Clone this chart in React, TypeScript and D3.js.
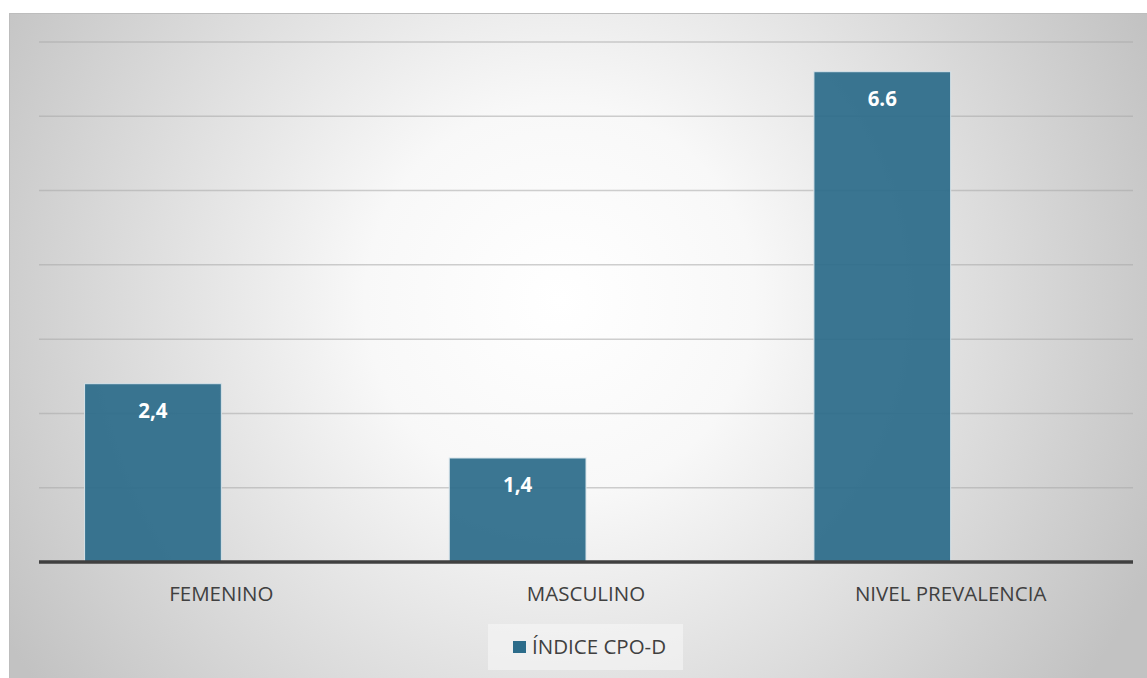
import React from "react";
import * as d3 from "d3";

const categories = ["FEMENINO", "MASCULINO", "NIVEL PREVALENCIA"];
const values = [2.4, 1.4, 6.6];
const valueLabels = ["2,4", "1,4", "6.6"];
const seriesName = "ÍNDICE CPO-D";
const slots = [seriesName, "_empty"];
const yTicks = [0, 1, 2, 3, 4, 5, 6, 7];

const W = 1147;
const H = 678;
const plot = { left: 39, right: 1133, top: 42, bottom: 562 };
const barColor = "#2c6c8a";
const font = "'Open Sans', 'Noto Sans', sans-serif";

export default function App() {
  const x = d3
    .scaleBand<string>()
    .domain(categories)
    .range([plot.left, plot.right])
    .padding(0);
  const xs = d3
    .scaleBand<string>()
    .domain(slots)
    .range([0, x.bandwidth()])
    .paddingInner(0)
    .paddingOuter(1 / 3);
  const y = d3.scaleLinear().domain([0, 7]).range([plot.bottom, plot.top]);

  return (
    <svg
      width={W}
      height={H}
      style={{ position: "absolute", left: 0, top: 0, background: "#fff" }}
    >
      <defs>
        <radialGradient
          id="bg"
          gradientUnits="userSpaceOnUse"
          cx={560}
          cy={300}
          r={650}
        >
          <stop offset="0" stopColor="#ffffff" />
          <stop offset="0.3" stopColor="#f8f8f8" />
          <stop offset="1" stopColor="#c2c2c2" />
        </radialGradient>
      </defs>
      <rect x={9.5} y={13.5} width={W - 9} height={H - 13} fill="url(#bg)" stroke="#bdbdbd" strokeWidth={1} />
      {yTicks.slice(1).map((t) => (
        <line
          key={t}
          x1={plot.left}
          x2={plot.right}
          y1={y(t)}
          y2={y(t)}
          stroke="#a8a8a8"
          strokeOpacity={0.55}
          strokeWidth={1.5}
        />
      ))}
      {categories.map((c, i) => {
        const bx = (x(c) as number) + (xs(seriesName) as number);
        const bw = xs.bandwidth();
        const cx = (x(c) as number) + x.bandwidth() / 2;
        return (
          <g key={c}>
            <rect
              x={bx}
              y={y(values[i])}
              width={bw}
              height={plot.bottom - y(values[i])}
              fill={barColor}
              fillOpacity={0.93}
              stroke="#d8e4ea"
              strokeWidth={1}
            />
            <text
              x={bx + bw / 2}
              y={y(values[i]) + 34}
              textAnchor="middle"
              fill="#ffffff"
              fontFamily={font}
              fontWeight={700}
              fontSize={20.5}
            >
              {valueLabels[i]}
            </text>
            <text
              x={cx}
              y={601}
              textAnchor="middle"
              fill="#404040"
              fontFamily={font}
              fontSize={20.5}
            >
              {c}
            </text>
          </g>
        );
      })}
      <line
        x1={plot.left}
        x2={plot.right}
        y1={plot.bottom}
        y2={plot.bottom}
        stroke="#404040"
        strokeWidth={3.5}
      />
      <rect x={488} y={624} width={195} height={46} fill="#f6f6f6" fillOpacity={0.6} />
      <rect x={513} y={641} width={13} height={12} fill={barColor} />
      <text x={532} y={654} fill="#404040" fontFamily={font} fontSize={20.5}>
        {seriesName}
      </text>
    </svg>
  );
}
